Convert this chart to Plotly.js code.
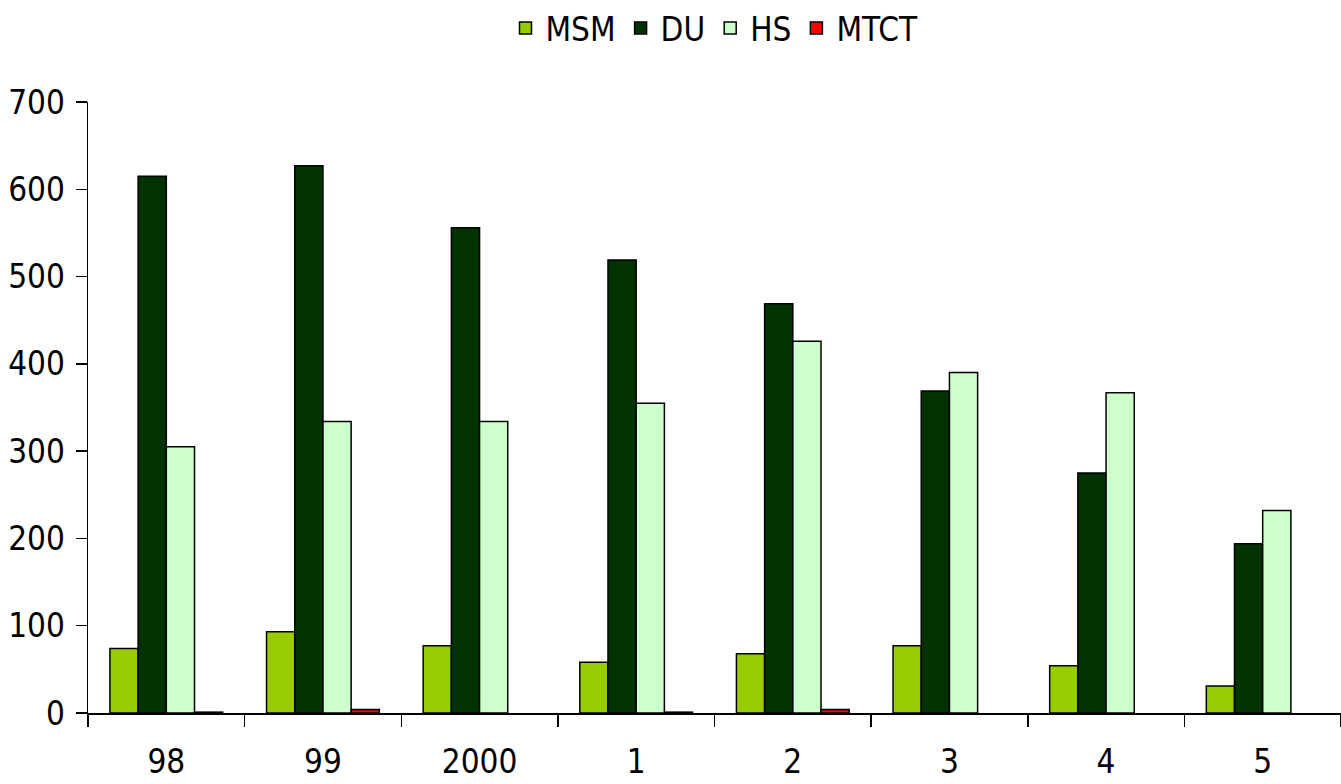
<!DOCTYPE html>
<html><head><meta charset="utf-8">
<script src="https://cdn.plot.ly/plotly-3.0.1.min.js"></script>
<style>html,body{margin:0;padding:0;overflow:hidden;background:#fff}</style>
</head><body><div id="chart" style="width:1341px;height:784px"></div>
<script>
const categories = ["98", "99", "2000", "1", "2", "3", "4", "5"];
const msm  = [74, 93, 77, 58, 68, 77, 54, 31];
const du   = [615, 627, 556, 519, 469, 369, 275, 194];
const hs   = [305, 334, 334, 355, 426, 390, 367, 232];
const mtct = [1, 4, null, 1, 4, null, null, null];
const seriesNames = ["MSM", "DU", "HS", "MTCT"];
const seriesColors = ["#99CC00", "#003300", "#CCFFCC", "#FF0000"];
const yTicks = [0, 100, 200, 300, 400, 500, 600, 700];

const font = {family: "DejaVu Sans Condensed, Liberation Sans Narrow, sans-serif", size: 33, color: "#000"};
const data = [msm, du, hs, mtct].map((vals, i) => ({
  type: "bar", x: categories, y: vals, name: seriesNames[i],
  marker: {color: seriesColors[i], line: {color: "#000", width: 1.5}}
}));
const layout = {
  width: 1341, height: 784,
  margin: {l: 88, r: 0, t: 102, b: 71},
  paper_bgcolor: "#fff", plot_bgcolor: "#fff",
  font: font,
  barmode: "group", bargap: 0.28, bargroupgap: 0,
  showlegend: true,
  legend: {orientation: "h", x: 0.5, xanchor: "center", yref: "container", y: 1.0, yanchor: "top",
           font: font, itemwidth: 30, tracegroupgap: 0},
  xaxis: {type: "category", showline: true, linecolor: "#000", linewidth: 1.5,
          ticks: "outside", tickson: "boundaries", ticklen: 12, tickwidth: 1.5, tickcolor: "#000",
          ticklabelstandoff: 19, showgrid: false, zeroline: false, tickfont: font},
  yaxis: {range: [0, 700], tickvals: yTicks, showline: true, linecolor: "#000", linewidth: 1.5,
          ticks: "outside", ticklen: 11, tickwidth: 1.5, tickcolor: "#000",
          showgrid: false, zeroline: false, tickfont: font, ticklabelstandoff: 4}
};
Plotly.newPlot("chart", data, layout, {displayModeBar: false, staticPlot: true});
</script></body></html>
